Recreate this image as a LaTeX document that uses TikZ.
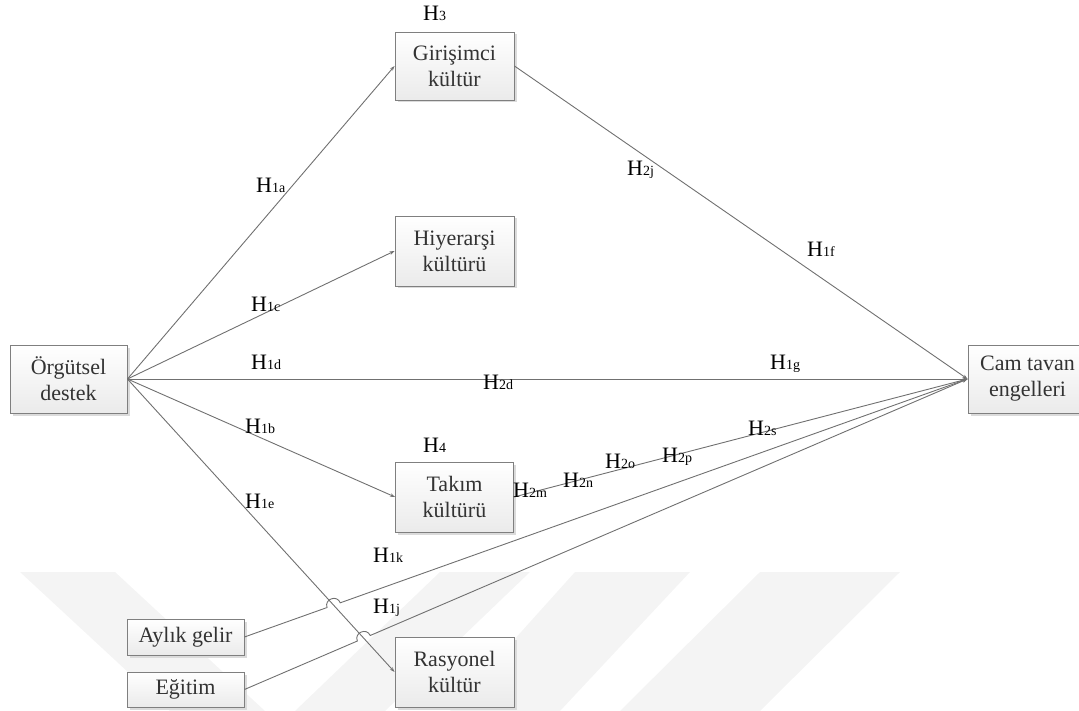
\documentclass[tikz,border=0pt]{standalone}
\usepackage{fontspec}
\setmainfont{Liberation Serif}
\usetikzlibrary{arrows.meta,calc,intersections,shadows}
\definecolor{edge}{HTML}{707070}
\definecolor{boxline}{HTML}{7F7F7F}
\definecolor{boxtext}{HTML}{333333}
\definecolor{wmark}{HTML}{F4F4F4}
% hypothesis label: large H with a smaller index on the same baseline
\newcommand\hyp[1]{H{\fontsize{14}{16}\selectfont #1}}
\begin{document}
\begin{tikzpicture}[x=1pt,y=1pt,
  box/.style={draw=boxline, line width=0.9pt, top color=white, bottom color=black!8,
    text=boxtext, align=center, font=\fontsize{22}{26}\selectfont, inner sep=0pt,
    drop shadow={shadow xshift=2.5pt, shadow yshift=-2.5pt, fill=black!14, opacity=1}},
  conn/.style={draw=edge, line width=0.9pt},
  arr/.style={conn, -{Stealth[length=5pt,width=3.5pt]}},
  lbl/.style={anchor=base west, inner sep=0pt, font=\fontsize{22}{26}\selectfont},
  band/.style={fill=wmark, draw=none}]
\useasboundingbox (0,0) rectangle (1079,-711);

% faint background bands along the bottom edge
\fill[band] (20,-572) -- (115,-572) -- (265,-711) -- (170,-711) -- cycle;
\fill[band] (440,-572) -- (530,-572) -- (385,-711) -- (295,-711) -- cycle;
\fill[band] (575,-572) -- (690,-572) -- (560,-711) -- (450,-711) -- cycle;
\fill[band] (760,-572) -- (900,-572) -- (760,-711) -- (620,-711) -- cycle;

% boxes
\node[box, minimum width=119pt, minimum height=68pt] (gir) at (454.5,-66) {Girişimci\\kültür};
\node[box, minimum width=119pt, minimum height=70pt] (hiy) at (454.5,-251) {Hiyerarşi\\kültürü};
\node[box, minimum width=117pt, minimum height=68pt] (org) at (68.5,-379) {Örgütsel\\destek};
\node[box, minimum width=119pt, minimum height=68pt] (cam) at (1027.5,-379) {Cam tavan\\engelleri};
\node[box, minimum width=118pt, minimum height=70pt] (tak) at (454.5,-497) {Takım\\kültürü};
\node[box, minimum width=119pt, minimum height=70pt] (ras) at (454.5,-672) {Rasyonel\\kültür};
\node[box, minimum width=117pt, minimum height=36pt] (ayl) at (185.5,-637) {Aylık gelir};
\node[box, minimum width=117pt, minimum height=35pt] (egi) at (185.5,-689.5) {Eğitim};

% paths from the support box
\draw[arr] (org.east) -- (gir.west);
\draw[arr] (org.east) -- (hiy.west);
\draw[arr] (org.east) -- (cam.west);
\draw[arr] (org.east) -- (tak.west);
\draw[arr, name path=er] (org.east) -- (ras.west);

% paths into the glass ceiling box
\draw[arr] (gir.east) -- (cam.west);
\draw[arr] (tak.east) -- (cam.west);

% control variables, with line jumps over the crossing path
\path[name path=ag] (ayl.east) -- (cam.west);
\path[name path=eg] (egi.east) -- (cam.west);
\path[name intersections={of=er and ag, by=xa}];
\path[name intersections={of=er and eg, by=xe}];
\coordinate (xa1) at ($(xa)!7pt!(ayl.east)$);
\coordinate (xa2) at ($(xa)!7pt!(cam.west)$);
\coordinate (xe1) at ($(xe)!7pt!(egi.east)$);
\coordinate (xe2) at ($(xe)!7pt!(cam.west)$);
\draw[arr] (ayl.east) -- (xa1)
  .. controls ($(xa1)!9pt!90:(xa)$) and ($(xa2)!9pt!-90:(xa)$) .. (xa2) -- (cam.west);
\draw[arr] (egi.east) -- (xe1)
  .. controls ($(xe1)!9pt!90:(xe)$) and ($(xe2)!9pt!-90:(xe)$) .. (xe2) -- (cam.west);

% hypothesis labels
\node[lbl] (h3)  at (423,-21)  {\hyp{3}};
\node[lbl] (h4)  at (423,-452) {\hyp{4}};
\node[lbl] (h1a) at (256,-193) {\hyp{1a}};
\node[lbl] (h1c) at (251,-312) {\hyp{1c}};
\node[lbl] (h2j) at (627,-176) {\hyp{2j}};
\node[lbl] (h1f) at (807,-257) {\hyp{1f}};
\node[lbl] (h1d) at (251,-370) {\hyp{1d}};
\node[lbl] (h2d) at (483,-389) {\hyp{2d}};
\node[lbl] (h1g) at (770,-369) {\hyp{1g}};
\node[lbl] (h1b) at (245,-433) {\hyp{1b}};
\node[lbl] (h1e) at (245,-508) {\hyp{1e}};
\node[lbl] (h2s) at (748,-435) {\hyp{2s}};
\node[lbl] (h2p) at (662,-462) {\hyp{2p}};
\node[lbl] (h2o) at (605,-468) {\hyp{2o}};
\node[lbl] (h2n) at (563,-487) {\hyp{2n}};
\node[lbl] (h2m) at (513,-497) {\hyp{2m}};
\node[lbl] (h1k) at (373,-562) {\hyp{1k}};
\node[lbl] (h1j) at (373,-613) {\hyp{1j}};
\end{tikzpicture}
\end{document}
